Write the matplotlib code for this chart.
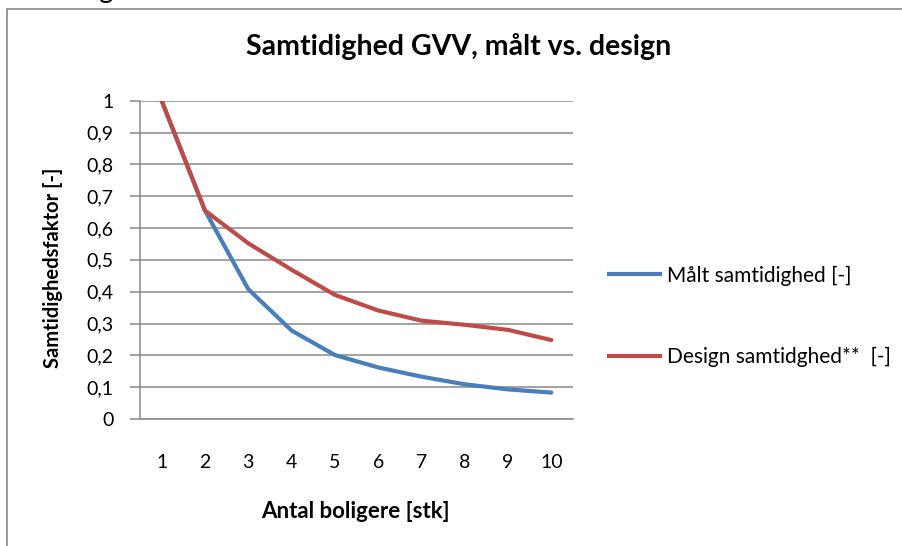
import matplotlib.pyplot as plt
from matplotlib.lines import Line2D
from matplotlib.patches import Rectangle

plt.rcParams["font.family"] = ["Lato", "DejaVu Sans"]

# Samtidighed for gulvvarme/varmt vand pr. antal boliger
boliger = [1, 2, 3, 4, 5, 6, 7, 8, 9, 10]
maalt = [1.0, 0.655, 0.408, 0.278, 0.201, 0.162, 0.133, 0.109, 0.093, 0.083]
design = [1.0, 0.655, 0.552, 0.469, 0.390, 0.341, 0.309, 0.296, 0.280, 0.248]

y_ticks = [0, 0.1, 0.2, 0.3, 0.4, 0.5, 0.6, 0.7, 0.8, 0.9, 1.0]
y_tick_labels = ["0", "0,1", "0,2", "0,3", "0,4", "0,5", "0,6", "0,7", "0,8", "0,9", "1"]
x_tick_labels = [str(b) for b in boliger]

series_labels = ["Målt samtidighed [-]", "Design samtidghed**  [-]"]
blue = "#4a7ebb"
red = "#be4b48"
grey = "#888888"

W, H = 902, 546
fig = plt.figure(figsize=(W / 100, H / 100), dpi=100)

# chart area frame (runs off the right and bottom edges)
fig.patches.append(Rectangle((7 / W, -0.1), 1.2, (H - 9) / H + 0.1,
                             transform=fig.transFigure, fill=False,
                             edgecolor=grey, linewidth=1.2))

ax = fig.add_axes([140 / W, 127 / H, 433 / W, 318.3 / H])
ax.plot(boliger, maalt, color=blue, linewidth=3.0, solid_capstyle="round", zorder=3)
ax.plot(boliger, design, color=red, linewidth=3.0, solid_capstyle="round", zorder=4)

ax.set_xlim(0.5, 10.5)
ax.set_ylim(0, 1)
ax.set_yticks(y_ticks)
ax.set_yticklabels(y_tick_labels)
ax.set_xticks(boliger)
ax.set_xticklabels(x_tick_labels)
ax.yaxis.grid(True, color=grey, linewidth=1.1)
ax.set_axisbelow(True)

for side in ("top", "right"):
    ax.spines[side].set_visible(False)
for side in ("left", "bottom"):
    ax.spines[side].set_color(grey)
    ax.spines[side].set_linewidth(1.1)

ax.tick_params(axis="y", length=7.2, width=1.1, color=grey, pad=12, labelsize=14)
ax.tick_params(axis="x", length=0, pad=25, labelsize=14)

fig.text(459 / W, 1 - 46 / H, "Samtidighed GVV, målt vs. design",
         ha="center", va="center", fontsize=20.5, fontweight="bold")
fig.text(53 / W, 1 - 268 / H, "Samtidighedsfaktor [-]", rotation=90,
         ha="center", va="center", fontsize=14.5, fontweight="bold")
fig.text(355 / W, 1 - 512 / H, "Antal boligere [stk]",
         ha="center", va="center", fontsize=16, fontweight="bold")

# clipped descender of text above the chart
fig.text(105 / W, 1 + 2 / H, "g", ha="center", va="baseline", fontsize=20)

handles = [Line2D([], [], color=blue, linewidth=3.0),
           Line2D([], [], color=red, linewidth=3.0)]
fig.legend(handles, series_labels, loc="center left",
           bbox_to_anchor=(609 / W, 1 - 316.5 / H), frameon=False,
           fontsize=15, handlelength=2.45, handletextpad=0.34,
           labelspacing=2.95, borderpad=0, borderaxespad=0)

fig.savefig("out.png", dpi=100)
